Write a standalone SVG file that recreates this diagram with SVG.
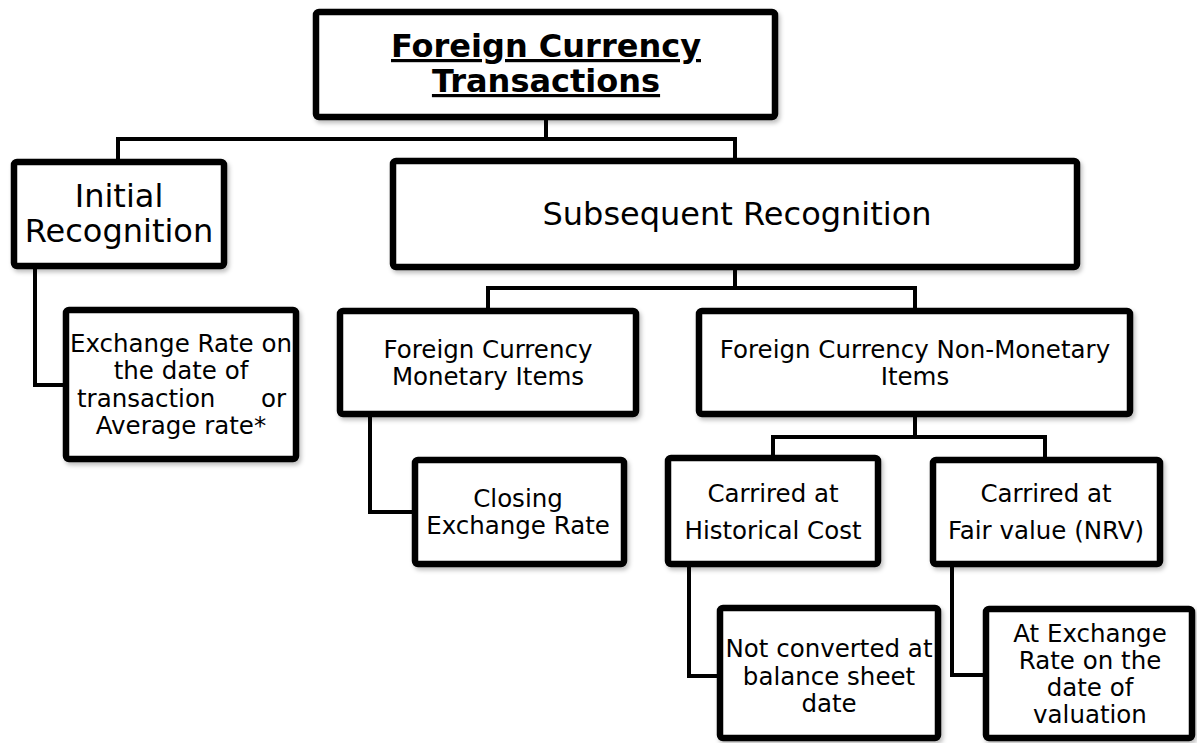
<svg xmlns="http://www.w3.org/2000/svg" width="1197" height="743" viewBox="0 0 1197 743">
<defs>
<filter id="sh" x="-10%" y="-10%" width="120%" height="130%">
<feDropShadow dx="2" dy="3" stdDeviation="2" flood-color="#000" flood-opacity="0.25"/>
</filter>
<style>
.box{fill:#fff;stroke:#000;stroke-width:6.5;filter:url(#sh)}
.con{fill:none;stroke:#000;stroke-width:4;stroke-linejoin:miter}
.t{font-family:"DejaVu Sans","Verdana",sans-serif;fill:#000;text-anchor:middle}
.title{font-size:32px;font-weight:bold;text-decoration:underline}
.big{font-size:32px}
.sm{font-size:24.5px}
</style>
</defs>
<rect width="1197" height="743" fill="#fff"/>
<g id="connectors">
<path class="con" d="M546 120V139M118 159V139H735V158"/>
<path class="con" d="M35 269V385H63"/>
<path class="con" d="M735 270V288M488 308V288H915V308"/>
<path class="con" d="M370 417V512H412"/>
<path class="con" d="M915 417V437M773 455V437H1045V457"/>
<path class="con" d="M689 567V676H717"/>
<path class="con" d="M952 567V675H983"/>
</g>
<g id="title">
<rect class="box" x="316" y="12" width="459" height="105" rx="3"/>
<text class="t title" x="546" y="57">Foreign Currency</text>
<text class="t title" x="546" y="92">Transactions</text>
</g>
<g id="initial">
<rect class="box" x="14" y="162" width="210" height="104" rx="3"/>
<text class="t big" x="119" y="207">Initial</text>
<text class="t big" x="119" y="242">Recognition</text>
</g>
<g id="subsequent">
<rect class="box" x="393" y="161" width="684" height="106" rx="3"/>
<text class="t big" x="737" y="225">Subsequent Recognition</text>
</g>
<g id="exchange-rate">
<rect class="box" x="66" y="310" width="230" height="149" rx="3"/>
<text class="t sm" x="181" y="352">Exchange Rate on</text>
<text class="t sm" x="181" y="379">the  date of</text>
<text class="t sm" x="181" y="407"><tspan x="77" style="text-anchor:start">transaction</tspan><tspan x="286" style="text-anchor:end">or</tspan></text>
<text class="t sm" x="181" y="434">Average rate*</text>
</g>
<g id="monetary">
<rect class="box" x="340" y="311" width="296" height="103" rx="3"/>
<text class="t sm" x="488" y="358">Foreign Currency</text>
<text class="t sm" x="488" y="385">Monetary Items</text>
</g>
<g id="non-monetary">
<rect class="box" x="699" y="311" width="431" height="103" rx="3"/>
<text class="t sm" x="915" y="358">Foreign Currency Non-Monetary</text>
<text class="t sm" x="915" y="385">Items</text>
</g>
<g id="closing">
<rect class="box" x="415" y="460" width="209" height="104" rx="3"/>
<text class="t sm" x="518" y="507">Closing</text>
<text class="t sm" x="518" y="534">Exchange Rate</text>
</g>
<g id="historical">
<rect class="box" x="668" y="458" width="210" height="106" rx="3"/>
<text class="t sm" x="773" y="502">Carrired at</text>
<text class="t sm" x="773" y="539">Historical Cost</text>
</g>
<g id="fair-value">
<rect class="box" x="933" y="460" width="227" height="104" rx="3"/>
<text class="t sm" x="1046" y="502">Carrired at</text>
<text class="t sm" x="1046" y="539">Fair value (NRV)</text>
</g>
<g id="not-converted">
<rect class="box" x="720" y="608" width="218" height="130" rx="3"/>
<text class="t sm" x="829" y="657">Not converted at</text>
<text class="t sm" x="829" y="685">balance sheet</text>
<text class="t sm" x="829" y="712">date</text>
</g>
<g id="at-exchange">
<rect class="box" x="986" y="609" width="206" height="129" rx="3"/>
<text class="t sm" x="1090" y="642">At Exchange</text>
<text class="t sm" x="1090" y="669">Rate on the</text>
<text class="t sm" x="1090" y="696">date of</text>
<text class="t sm" x="1090" y="723">valuation</text>
</g>
</svg>
